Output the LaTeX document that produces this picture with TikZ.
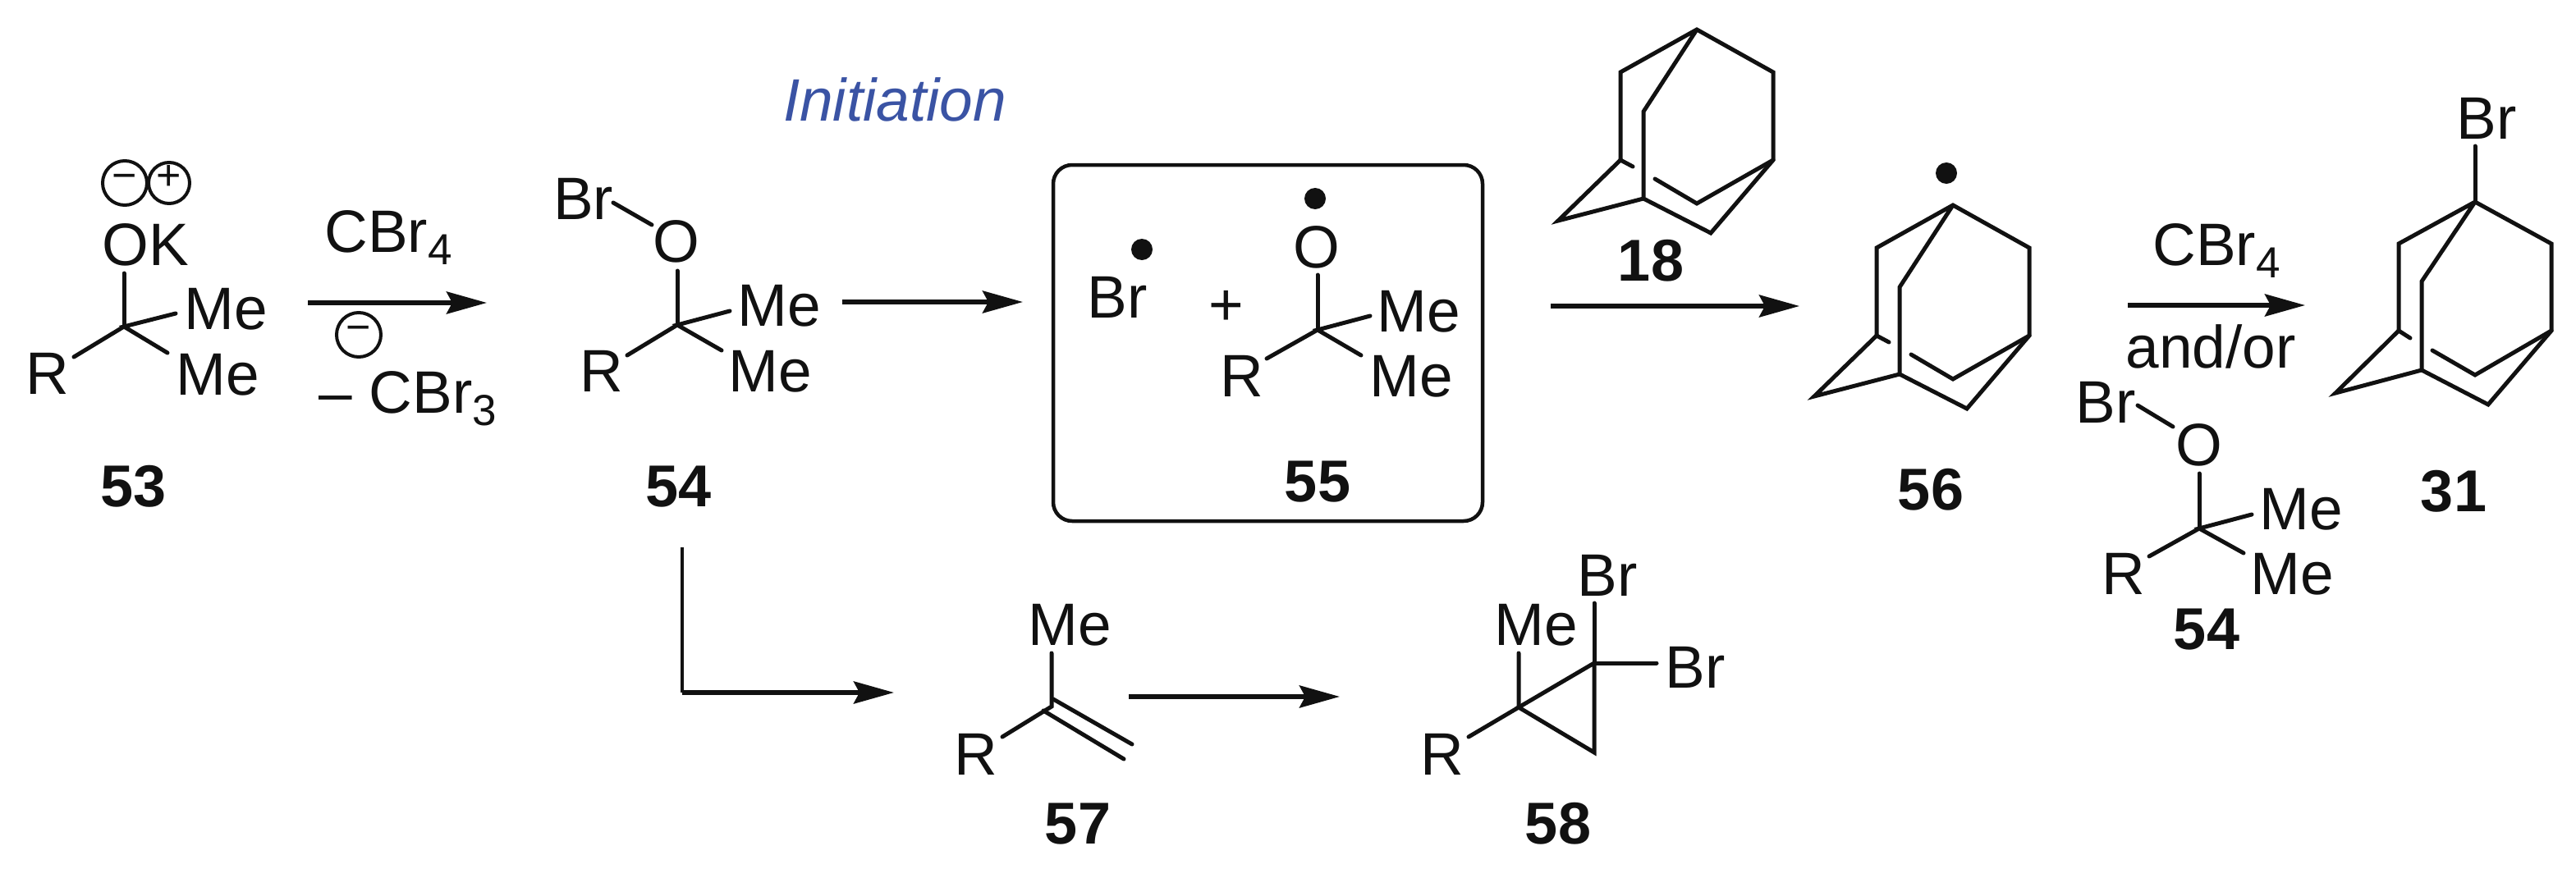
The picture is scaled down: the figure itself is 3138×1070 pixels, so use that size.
\documentclass[tikz,border=0pt]{standalone}
\usepackage{fontspec}
\setmainfont{Liberation Sans}
\usetikzlibrary{arrows.meta}
\definecolor{ink}{HTML}{111111}
\definecolor{initblue}{HTML}{3A53A4}
\newcommand{\pt}[3]{\coordinate (#1) at (#2,#3);}
\newcommand{\sub}[1]{\raisebox{-15pt}{\fontsize{53}{53}\selectfont #1}}
\newcommand{\chgmark}[1]{\raisebox{-17pt}{\smash{#1}}}
\tikzset{
  x=1pt,y=-1pt,
  atom/.style={anchor=base,inner sep=0pt,text=ink,font=\fontsize{73}{80}\selectfont},
  cmpd/.style={anchor=base,inner sep=0pt,text=ink,font=\fontsize{72}{80}\selectfont\bfseries},
  note/.style={anchor=base,inner sep=0pt,text=initblue,font=\fontsize{73}{80}\selectfont\itshape},
  chg/.style={circle,draw=ink,line width=4pt,inner sep=0pt,minimum size=#1,text=ink,font=\fontsize{52}{52}\selectfont},
  bond/.style={draw=ink,line width=5pt,line cap=round,line join=miter},
  rxn/.style={draw=ink,line width=5.5pt,-{Stealth[length=49pt,width=27pt,inset=7pt]}},
  radical/.style={circle,fill=ink,inner sep=0pt,minimum size=26pt},
  framebox/.style={draw=ink,line width=4.5pt,rounded corners=23pt}
}
\newcommand{\adamantane}[1]{%
  \draw[bond] (#1L) -- (#1UL) -- (#1T) -- (#1UR) -- (#1R) -- (#1B) -- (#1IB) -- (#1IT) -- (#1T);
  \draw[bond] (#1SL) -- (#1L) -- (#1FL) -- (#1IB);
  \draw[bond] (#1R) -- (#1M) -- (#1SM);}
\begin{document}
\begin{tikzpicture}
\useasboundingbox (0,0) rectangle (3138,1070);

% compound 53
\node[atom] (ok) at (177,323) {OK};
\node[chg=54pt] (q1) at (152,223) {\chgmark{−}};
\node[chg=50pt] (q2) at (206,223) {\chgmark{+}};
\node[atom] (m53a) at (275.5,401) {Me};
\node[atom] (m53b) at (265.5,481) {Me};
\node[atom] (r53) at (58,480) {R};
\node[cmpd] (l53) at (163,617) {53};
\pt{c53}{151}{398}\pt{c53o}{151}{333}\pt{c53a}{214}{382}\pt{c53b}{204}{430}\pt{c53r}{90}{435}
\draw[bond] (c53o) -- (c53);
\draw[bond] (c53a) -- (c53) -- (c53b);
\draw[bond] (c53r) -- (c53);

% arrow 53 to 54
\pt{a1s}{375}{369}\pt{a1e}{593}{369}
\draw[rxn] (a1s) -- (a1e);
\node[atom] (cbra) at (473,307) {CBr\sub{4}};
\node[chg=54pt] (q3) at (437,408) {\chgmark{−}};
\node[atom] (cbrb) at (497,503) {– CBr\sub{3}};

% compound 54
\node[atom] (br54) at (710.5,267) {Br};
\node[atom] (o54) at (824,319) {O};
\node[atom] (m54a) at (949.5,397) {Me};
\node[atom] (m54b) at (938.5,477) {Me};
\node[atom] (r54) at (733,477) {R};
\node[cmpd] (l54) at (827,617) {54};
\pt{c54}{825}{396}\pt{c54o}{825}{330}\pt{c54a}{889}{379}\pt{c54b}{879}{427}\pt{c54r}{764}{433}\pt{b54a}{747}{247}\pt{b54b}{794}{274}
\draw[bond] (b54a) -- (b54b);
\draw[bond] (c54o) -- (c54);
\draw[bond] (c54a) -- (c54) -- (c54b);
\draw[bond] (c54r) -- (c54);

% arrow 54 to box
\pt{a2s}{1026}{368}\pt{a2e}{1246}{368}
\draw[rxn] (a2s) -- (a2e);

\node[note] (init) at (1090,148) {Initiation};

% box 55
\pt{bx1}{1283}{201}\pt{bx2}{1806}{635}
\draw[framebox] (bx1) rectangle (bx2);
\node[atom] (br55) at (1361,387) {Br};
\node[radical] (d1) at (1391,304) {};
\node[atom] (plus) at (1494,396) {+};
\node[radical] (d2) at (1602,242) {};
\node[atom] (o55) at (1604,326) {O};
\node[atom] (m55a) at (1728,404) {Me};
\node[atom] (m55b) at (1719,483) {Me};
\node[atom] (r55) at (1513,483) {R};
\node[cmpd] (l55) at (1605,611) {55};
\pt{c55}{1605}{402}\pt{c55o}{1605}{335}\pt{c55a}{1669}{385}\pt{c55b}{1658}{433}\pt{c55r}{1543}{437}
\draw[bond] (c55o) -- (c55);
\draw[bond] (c55a) -- (c55) -- (c55b);
\draw[bond] (c55r) -- (c55);

% adamantane 18
\pt{xT}{2067}{36}\pt{xUL}{1974}{88}\pt{xUR}{2160}{88}\pt{xL}{1974}{195}\pt{xR}{2160}{195}
\pt{xIT}{2002}{136}\pt{xIB}{2002}{242}\pt{xFL}{1898}{269}\pt{xB}{2084}{284}\pt{xM}{2067}{248}
\pt{xSL}{1989}{203}\pt{xSM}{2016}{218}
\adamantane{x}
\node[cmpd] (l18) at (2011,342) {18};

% arrow to 56
\pt{a3s}{1889}{373}\pt{a3e}{2192}{373}
\draw[rxn] (a3s) -- (a3e);

% radical 56
\pt{yT}{2379}{250}\pt{yUL}{2286}{302}\pt{yUR}{2472}{302}\pt{yL}{2286}{409}\pt{yR}{2472}{409}
\pt{yIT}{2314}{350}\pt{yIB}{2314}{456}\pt{yFL}{2210}{483}\pt{yB}{2396}{498}\pt{yM}{2379}{462}
\pt{ySL}{2301}{417}\pt{ySM}{2328}{432}
\adamantane{y}
\node[radical] (d3) at (2371,211) {};
\node[cmpd] (l56) at (2352,621) {56};

% arrow to 31
\pt{a4s}{2592}{372}\pt{a4e}{2808}{372}
\draw[rxn] (a4s) -- (a4e);
\node[atom] (cbrc) at (2700,323) {CBr\sub{4}};
\node[atom] (andor) at (2693,448) {and/or};

% second 54
\node[atom] (br54b) at (2565,515) {Br};
\node[atom] (o54b) at (2679,567) {O};
\node[atom] (m54c) at (2803,645) {Me};
\node[atom] (m54d) at (2792,724) {Me};
\node[atom] (r54b) at (2587,724) {R};
\node[cmpd] (l54b) at (2688,791) {54};
\pt{dC}{2679}{644}\pt{dO}{2679}{577}\pt{dA}{2743}{627}\pt{dB}{2733}{674}\pt{dR}{2618}{678}\pt{dBa}{2604}{494}\pt{dBb}{2647}{520}
\draw[bond] (dBa) -- (dBb);
\draw[bond] (dO) -- (dC);
\draw[bond] (dA) -- (dC) -- (dB);
\draw[bond] (dR) -- (dC);

% bromoadamantane 31
\pt{zT}{3015}{246}\pt{zUL}{2922}{297}\pt{zUR}{3108}{297}\pt{zL}{2922}{403}\pt{zR}{3108}{403}
\pt{zIT}{2950}{343}\pt{zIB}{2950}{451}\pt{zFL}{2845}{479}\pt{zB}{3031}{493}\pt{zM}{3015}{457}
\pt{zSL}{2936}{412}\pt{zSM}{2963}{427}\pt{zBr}{3015}{178}
\adamantane{z}
\node[atom] (br31) at (3029,169) {Br};
\draw[bond] (zBr) -- (zT);
\node[cmpd] (l31) at (2989,623) {31};

% side branch to 57
\pt{a5t}{831}{667}\pt{a5c}{831}{844}\pt{a5e}{1089}{844}
\draw[draw=ink,line width=4pt] (a5t) -- (a5c);
\draw[rxn] (a5c) -- (a5e);

% compound 57
\node[atom] (m57) at (1303,786) {Me};
\node[atom] (r57) at (1189,944) {R};
\node[cmpd] (l57) at (1313,1028) {57};
\pt{c57}{1281}{861}\pt{c57m}{1281}{796}\pt{c57r}{1221}{898}\pt{d57a}{1283}{852}\pt{d57b}{1379}{907}\pt{d57c}{1271}{866}\pt{d57d}{1369}{925}
\draw[bond] (c57m) -- (c57) -- (c57r);
\draw[bond] (d57a) -- (d57b);
\draw[bond] (d57c) -- (d57d);

% arrow to 58
\pt{a6s}{1375}{849}\pt{a6e}{1632}{849}
\draw[rxn] (a6s) -- (a6e);

% compound 58
\node[atom] (m58) at (1871,786) {Me};
\node[atom] (br58a) at (1958,726) {Br};
\node[atom] (br58b) at (2065,838) {Br};
\node[atom] (r58) at (1757,944) {R};
\node[cmpd] (l58) at (1898,1028) {58};
\pt{c58a}{1850}{862}\pt{c58b}{1942}{808}\pt{c58c}{1942}{917}\pt{c58m}{1850}{796}\pt{c58r}{1789}{898}\pt{c58t}{1942}{735}\pt{c58s}{2018}{808}
\draw[bond] (c58a) -- (c58b) -- (c58c) -- cycle;
\draw[bond] (c58m) -- (c58a) -- (c58r);
\draw[bond] (c58t) -- (c58b) -- (c58s);
\end{tikzpicture}
\end{document}
